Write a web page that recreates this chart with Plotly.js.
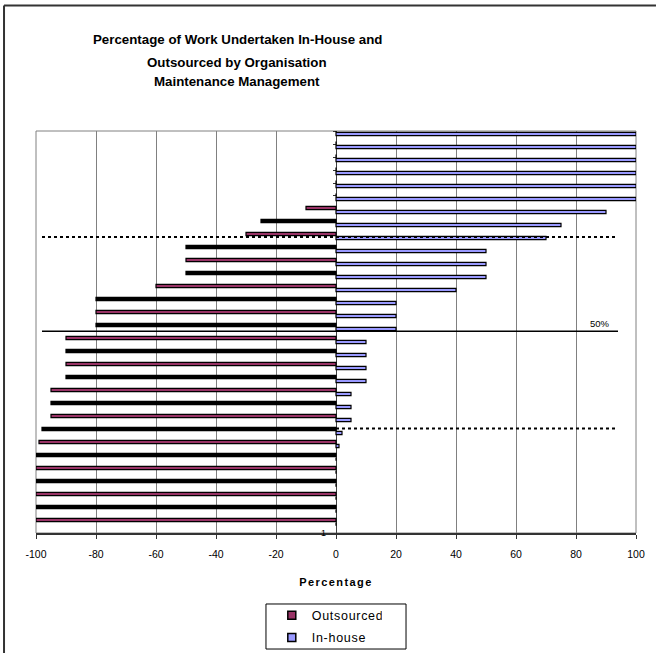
<!DOCTYPE html>
<html>
<head>
<meta charset="utf-8">
<script src="https://cdn.plot.ly/plotly-3.0.1.min.js"></script>
<style>
  html, body { margin: 0; padding: 0; background: #fff; }
  #chart { width: 656px; height: 653px; }
  #chart .xtitle { letter-spacing: 1.4px; }
  #chart .legendtext { letter-spacing: 0.7px; }
</style>
</head>
<body>
<div id="chart"></div>
<script>
// Share of maintenance work per organisation, listed top to bottom (%)
const outsourcedShare = [0, 0, 0, 0, 0, 0, 10, 25, 30, 50, 50, 50, 60, 80, 80, 80,
                         90, 90, 90, 90, 95, 95, 95, 98, 99, 100, 100, 100, 100, 100, 100];
const inHouseShare    = [100, 100, 100, 100, 100, 100, 90, 75, 70, 50, 50, 50, 40, 20, 20, 20,
                         10, 10, 10, 10, 5, 5, 5, 2, 1, 0, 0, 0, 0, 0, 0];
const xTickValues = [-100, -80, -60, -40, -20, 0, 20, 40, 60, 80, 100];
const xTickLabels = ["-100", "-80", "-60", "-40", "-20", "0", "20", "40", "60", "80", "100"];
const titleLines = [
  "Percentage of Work Undertaken In-House and",
  "Outsourced by Organisation",
  "Maintenance Management"
];
const seriesNames = ["Outsourced", "In-house"];
const categoryLabel = "1";
const midLabel = "50%";

const n = outsourcedShare.length;
// first organisation at the top of the chart
const rowPos = outsourcedShare.map((_, i) => n - i);
const outsourcedX = outsourcedShare.map(v => -v);

const FONT = "Liberation Sans, Arial, sans-serif";
const MAROON = "#993366";
const LAVENDER = "#9999FF";
// every second outsourced bar prints solid dark at this thickness
const outsourcedFill = rowPos.map((_, i) => (i % 2 === 1 ? "#000000" : MAROON));

const BAR_W = 0.25;

const traces = [
  {
    type: "bar", orientation: "h", name: seriesNames[0], showlegend: false,
    x: outsourcedX, y: rowPos,
    width: BAR_W, offset: 0.03,
    marker: { color: outsourcedFill, line: { color: "#000", width: 1.2 } },
    hoverinfo: "x"
  },
  {
    type: "bar", orientation: "h", name: seriesNames[1], showlegend: false,
    x: inHouseShare, y: rowPos,
    width: BAR_W, offset: -0.28,
    marker: { color: LAVENDER, line: { color: "#000", width: 1.2 } },
    hoverinfo: "x"
  },
  // legend keys with small square swatches
  {
    type: "scatter", mode: "markers", name: seriesNames[0], legendgroup: "o",
    x: [null], y: [null],
    marker: { symbol: "square", size: 8, color: MAROON, line: { color: "#000", width: 1.5 } }
  },
  {
    type: "scatter", mode: "markers", name: seriesNames[1], legendgroup: "i",
    x: [null], y: [null],
    marker: { symbol: "square", size: 8, color: LAVENDER, line: { color: "#000", width: 1.5 } }
  }
];

const titleY = [1.2264, 1.1716, 1.1219];
const annotations = titleLines.map((t, i) => ({
  text: "<b>" + t + "</b>",
  xref: "paper", yref: "paper", x: 0.335, y: titleY[i],
  xanchor: "center", yanchor: "middle", showarrow: false,
  font: { family: FONT, size: 13.3, color: "#000" }
}));
annotations.push({
  text: categoryLabel, xref: "x", yref: "paper", x: 0, y: 0,
  xanchor: "right", yanchor: "middle", xshift: -8, yshift: 0, showarrow: false,
  font: { family: FONT, size: 9, color: "#000" }
});
annotations.push({
  text: midLabel, xref: "x", yref: "y", x: 88, y: 15.67,
  xanchor: "center", yanchor: "bottom", yshift: 0, showarrow: false,
  font: { family: FONT, size: 9.5, color: "#000" }
});

const shapes = [
  // outer chart frame: left and top edges
  { type: "line", xref: "paper", yref: "paper", x0: -0.0533, x1: -0.0533, y0: -0.2985, y1: 1.3125,
    line: { color: "#333", width: 2 }, layer: "below" },
  { type: "line", xref: "paper", yref: "paper", x0: -0.0533, x1: 1.0333, y0: 1.3125, y1: 1.3125,
    line: { color: "#333", width: 2 }, layer: "below" },
  // plot area border
  { type: "rect", xref: "paper", yref: "paper", x0: 0, x1: 1, y0: 0, y1: 1,
    line: { color: "#808080", width: 1 }, layer: "below" },
  // legend box
  { type: "rect", xref: "paper", yref: "paper", x0: 0.3833, x1: 0.6167, y0: -0.2886, y1: -0.1766,
    line: { color: "#000", width: 1 }, fillcolor: "rgba(0,0,0,0)", layer: "below" },
  // reference lines
  { type: "line", xref: "x", yref: "y", x0: -98, x1: 93, y0: 22.93, y1: 22.93,
    line: { color: "#000", width: 2, dash: "dot" } },
  { type: "line", xref: "x", yref: "y", x0: -98, x1: 93, y0: 8.2, y1: 8.2,
    line: { color: "#000", width: 2, dash: "dot" } },
  { type: "line", xref: "x", yref: "y", x0: -98, x1: 94, y0: 15.67, y1: 15.67,
    line: { color: "#000", width: 1.5 } }
];

const layout = {
  width: 656, height: 653,
  margin: { l: 36, r: 20, t: 131, b: 120, pad: 0, autoexpand: false },
  paper_bgcolor: "#fff", plot_bgcolor: "#fff",
  barmode: "overlay",
  showlegend: true,
  legend: {
    x: 0.393, y: -0.1685, xanchor: "left", yanchor: "top",
    borderwidth: 0, bgcolor: "rgba(0,0,0,0)",
    font: { family: FONT, size: 12.5, color: "#000" },
    tracegroupgap: 3, itemwidth: 30
  },
  xaxis: {
    range: [-100, 100], tickvals: xTickValues, ticktext: xTickLabels,
    ticks: "outside", ticklen: 4, tickcolor: "#333",
    showline: true, linecolor: "#333", linewidth: 1.5,
    showgrid: true, gridcolor: "#808080", gridwidth: 1,
    zeroline: false, automargin: false,
    tickfont: { family: FONT, size: 10.5, color: "#000" },
    ticklabelstandoff: 7,
    title: { text: "<b>Percentage</b>", font: { family: FONT, size: 11, color: "#000" }, standoff: 19 },
    fixedrange: true
  },
  yaxis: {
    range: [0.154, 31.08],
    anchor: "free", position: 0.5,
    tickvals: rowPos.map(p => p + 0.08),
    ticks: "outside", ticklen: 3, tickcolor: "#333",
    showticklabels: false,
    showline: true, linecolor: "#404040", linewidth: 1,
    showgrid: false, zeroline: false, automargin: false,
    layer: "below traces",
    fixedrange: true
  },
  annotations: annotations,
  shapes: shapes
};

Plotly.newPlot("chart", traces, layout, { displayModeBar: false, staticPlot: true });
</script>
</body>
</html>
